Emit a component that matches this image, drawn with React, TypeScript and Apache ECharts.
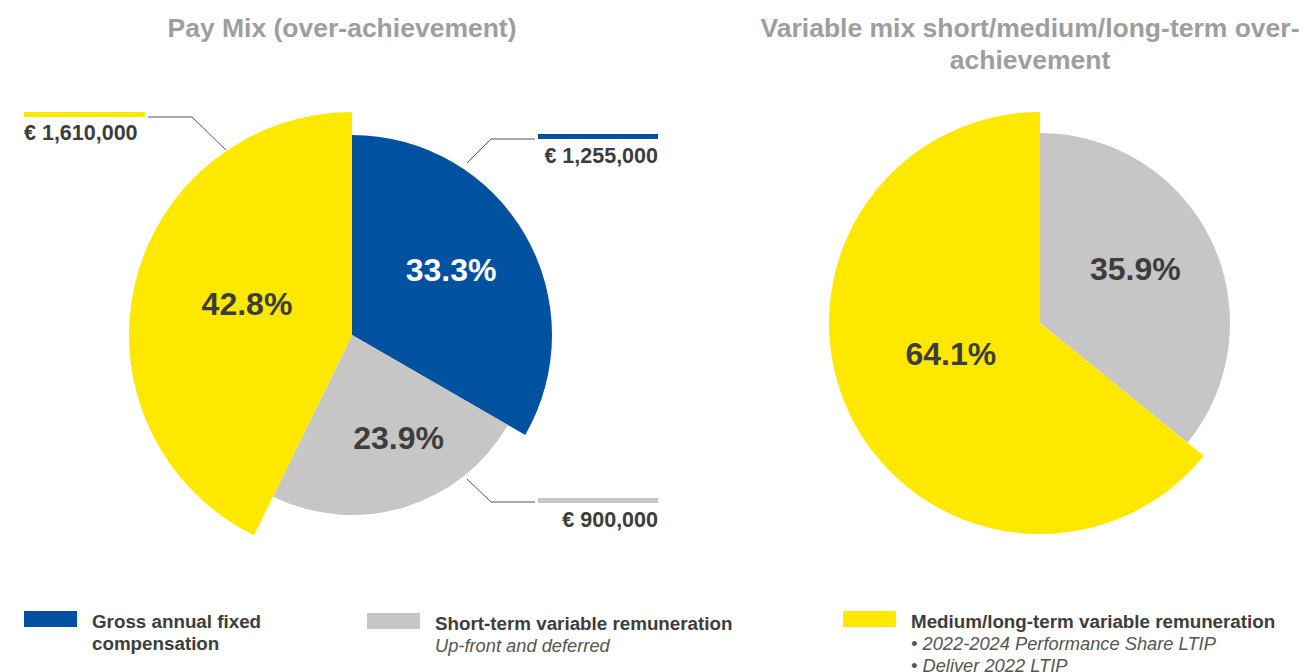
import React, { useEffect, useRef } from 'react';
import * as echarts from 'echarts';

// ---- Data ----
const payMixCategories = [
  'Gross annual fixed compensation',
  'Short-term variable remuneration',
  'Medium/long-term variable remuneration',
];
const payMixValues = [1255000, 900000, 1610000];

const variableMixCategories = [
  'Short-term variable remuneration',
  'Medium/long-term variable remuneration',
];
const variableMixValues = [900000, 1610000];

const legendTitles = [
  'Gross annual fixed\ncompensation',
  'Short-term variable remuneration',
  'Medium/long-term variable remuneration',
];
const legendSubtitles = [
  '',
  'Up-front and deferred',
  '• 2022-2024 Performance Share LTIP\n• Deliver 2022 LTIP',
];

const chartTitles = [
  'Pay Mix (over-achievement)',
  'Variable mix short/medium/long-term over-\nachievement',
];

// ---- Styles / layout ----
const COLORS = ['#0052A0', '#C6C6C6', '#FFE800'];
const LABEL_COLORS = ['#FFFFFF', '#3D3D3D', '#3D3D3D'];
const TEXT_DARK = '#3D3D3D';
const TITLE_COLOR = '#9E9E9E';
const FONT = '"Liberation Sans", Arial, Helvetica, sans-serif';

const LEFT_CENTER = [352, 335];
const RIGHT_CENTER = [1040, 323];
const LEFT_RADII = [200, 180, 223];
const RIGHT_RADII = [190, 211];
const LEFT_LABEL_RADII = [232, 224, 224];
const RIGHT_LABEL_RADII = [214, 196];
// label nudges: [horizontal padding right, horizontal padding left, vertical spacer]
const LEFT_LABEL_NUDGE = [
  [8, 0, 12],
  [0, 26, 14],
  [0, 14, 10],
];
const RIGHT_LABEL_NUDGE = [
  [8, 0, 14],
  [0, 4, 24],
];

const fmtEuro = (v: number) => '€ ' + v.toLocaleString('en-US');

function sliceSeries(
  names: string[],
  values: number[],
  colors: string[],
  center: number[],
  radius: number,
  visibleIndex: number
) {
  return {
    type: 'pie',
    center,
    radius,
    startAngle: 90,
    clockwise: true,
    silent: true,
    z: 2,
    label: { show: false },
    labelLine: { show: false },
    data: names.map((n, i) => ({
      name: n,
      value: values[i],
      itemStyle: { color: i === visibleIndex ? colors[i] : 'rgba(0,0,0,0)' },
    })),
  };
}

// label-only pie: shows the percentage of one slice, inside at radius/2
function labelSeries(
  names: string[],
  values: number[],
  labelColors: string[],
  center: number[],
  radius: number,
  visibleIndex: number,
  nudge: number[]
) {
  const [padR, padL, spacer] = nudge;
  return {
    type: 'pie',
    center,
    radius,
    startAngle: 90,
    clockwise: true,
    silent: true,
    z: 5,
    percentPrecision: 4,
    labelLine: { show: false },
    data: names.map((n, i) => ({
      name: n,
      value: values[i],
      itemStyle: { color: 'rgba(0,0,0,0)' },
      label: {
        show: i === visibleIndex,
        position: 'inside',
        padding: [0, padR, 0, padL],
        formatter: (p: any) => '{v|' + p.percent.toFixed(1) + '%}\n{s| }',
        rich: {
          v: {
            color: labelColors[i],
            fontSize: 32,
            fontWeight: 'bold',
            fontFamily: FONT,
            lineHeight: 34,
          },
          s: { fontSize: 1, lineHeight: spacer, height: spacer },
        },
      },
    })),
  };
}

export default function App() {
  const ref = useRef<HTMLDivElement>(null);

  useEffect(() => {
    if (!ref.current) return;
    const chart = echarts.init(ref.current, undefined, { renderer: 'svg' });

    const series: any[] = [];
    payMixValues.forEach((_, i) => {
      series.push(
        sliceSeries(payMixCategories, payMixValues, COLORS, LEFT_CENTER, LEFT_RADII[i], i)
      );
    });
    payMixValues.forEach((_, i) => {
      series.push(
        labelSeries(
          payMixCategories,
          payMixValues,
          LABEL_COLORS,
          LEFT_CENTER,
          LEFT_LABEL_RADII[i],
          i,
          LEFT_LABEL_NUDGE[i]
        )
      );
    });

    const rightColors = [COLORS[1], COLORS[2]];
    const rightLabelColors = [LABEL_COLORS[1], LABEL_COLORS[2]];
    variableMixValues.forEach((_, i) => {
      series.push(
        sliceSeries(
          variableMixCategories,
          variableMixValues,
          rightColors,
          RIGHT_CENTER,
          RIGHT_RADII[i],
          i
        )
      );
    });
    variableMixValues.forEach((_, i) => {
      series.push(
        labelSeries(
          variableMixCategories,
          variableMixValues,
          rightLabelColors,
          RIGHT_CENTER,
          RIGHT_LABEL_RADII[i],
          i,
          RIGHT_LABEL_NUDGE[i]
        )
      );
    });

    const leader = (pts: number[][]) => ({
      type: 'polyline',
      shape: { points: pts },
      style: { stroke: '#555555', lineWidth: 1, fill: 'none' },
      silent: true,
      z: 10,
    });

    const text = (x: number, y: number, t: string, opts: any = {}) => ({
      type: 'text',
      x,
      y,
      silent: true,
      z: 10,
      style: {
        text: t,
        fontFamily: FONT,
        fontSize: 18.8,
        fontWeight: 'bold',
        fill: TEXT_DARK,
        align: 'left',
        verticalAlign: 'middle',
        ...opts,
      },
    });

    const italic = { fontWeight: 'normal', fontStyle: 'italic', fontSize: 18.3, fill: '#555555' };

    const graphic: any[] = [
      // titles
      text(342, 28, chartTitles[0], { fontSize: 26.5, fill: TITLE_COLOR, align: 'center' }),
      text(1030, 44, chartTitles[1], {
        fontSize: 26.5,
        fill: TITLE_COLOR,
        align: 'center',
        lineHeight: 32,
      }),
      // value bars
      { type: 'rect', shape: { x: 24, y: 112, width: 121, height: 5 }, style: { fill: COLORS[2] }, silent: true },
      { type: 'rect', shape: { x: 538, y: 134, width: 120, height: 5 }, style: { fill: COLORS[0] }, silent: true },
      { type: 'rect', shape: { x: 538, y: 498, width: 120, height: 5 }, style: { fill: COLORS[1] }, silent: true },
      // leader lines
      leader([[148, 117], [192, 117], [226, 150]]),
      leader([[467, 163], [491, 139], [535, 139]]),
      leader([[467, 479], [491, 502], [535, 502]]),
      // value labels
      text(24, 133, fmtEuro(payMixValues[2]), { fontSize: 21.5 }),
      text(658, 156, fmtEuro(payMixValues[0]), { fontSize: 21.5, align: 'right' }),
      text(658, 520, fmtEuro(payMixValues[1]), { fontSize: 21.5, align: 'right' }),
      // legend
      { type: 'rect', shape: { x: 24, y: 611, width: 53, height: 16 }, style: { fill: COLORS[0] }, silent: true },
      { type: 'rect', shape: { x: 367, y: 613, width: 53, height: 16 }, style: { fill: COLORS[1] }, silent: true },
      { type: 'rect', shape: { x: 843, y: 611, width: 53, height: 16 }, style: { fill: COLORS[2] }, silent: true },
      text(92, 610, legendTitles[0], { verticalAlign: 'top', lineHeight: 22 }),
      text(435, 623, legendTitles[1]),
      text(435, 645, legendSubtitles[1], italic),
      text(911, 621, legendTitles[2]),
      text(911, 632, legendSubtitles[2], { ...italic, verticalAlign: 'top', lineHeight: 22 }),
    ];

    chart.setOption({
      animation: false,
      backgroundColor: '#FFFFFF',
      series,
      graphic,
    });

    return () => {
      chart.dispose();
    };
  }, []);

  return (
    <div
      ref={ref}
      style={{ position: 'fixed', left: 0, top: 0, width: 1309, height: 672, background: '#fff' }}
    />
  );
}
